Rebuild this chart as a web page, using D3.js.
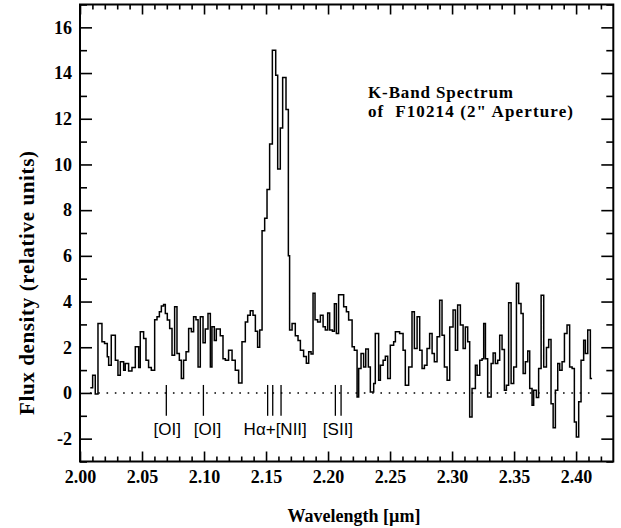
<!DOCTYPE html>
<html>
<head>
<meta charset="utf-8">
<script src="https://cdn.jsdelivr.net/npm/d3@7"></script>
<style>
  html, body { margin: 0; padding: 0; background: #fff; }
  svg { display: block; }
  .serif { font-family: "Liberation Serif", "Times New Roman", serif; font-weight: bold; }
  .sans { font-family: "Liberation Sans", Arial, sans-serif; }
</style>
</head>
<body>
<div id="chart"></div>
<script>
// ---- Data ----
// left edge of each spectral bin (micron)
const wavelength = [
  2.0083,2.0102,2.0123,2.0145,2.0177,2.0198,2.0220,2.0231,2.0252,2.0285,
  2.0306,2.0325,2.0352,2.0365,2.0392,2.0419,2.0446,2.0473,2.0486,2.0513,
  2.0532,2.0553,2.0575,2.0602,2.0621,2.0640,2.0656,2.0674,2.0688,2.0704,
  2.0723,2.0742,2.0763,2.0782,2.0801,2.0817,2.0835,2.0855,2.0876,2.0898,
  2.0916,2.0935,2.0952,2.0970,2.0992,2.1010,2.1032,2.1051,2.1064,2.1083,
  2.1099,2.1131,2.1153,2.1172,2.1198,2.1226,2.1252,2.1279,2.1306,2.1333,
  2.1352,2.1373,2.1395,2.1414,2.1432,2.1449,2.1468,2.1489,2.1508,2.1529,
  2.1551,2.1578,2.1594,2.1615,2.1634,2.1661,2.1680,2.1690,2.1710,2.1736,
  2.1758,2.1777,2.1803,2.1825,2.1844,2.1863,2.1879,2.1895,2.1916,2.1938,
  2.1960,2.1978,2.1997,2.2013,2.2035,2.2051,2.2067,2.2085,2.2126,2.2148,
  2.2166,2.2194,2.2212,2.2234,2.2247,2.2266,2.2287,2.2304,2.2325,2.2341,
  2.2368,2.2381,2.2408,2.2422,2.2444,2.2462,2.2481,2.2502,2.2529,2.2543,
  2.2577,2.2605,2.2623,2.2650,2.2677,2.2696,2.2718,2.2739,2.2758,2.2777,
  2.2798,2.2819,2.2839,2.2857,2.2879,2.2900,2.2919,2.2938,2.2960,2.2981,
  2.3008,2.3027,2.3045,2.3067,2.3089,2.3107,2.3126,2.3142,2.3161,2.3188,
  2.3202,2.3223,2.3242,2.3255,2.3269,2.3287,2.3315,2.3331,2.3349,2.3368,
  2.3384,2.3403,2.3422,2.3438,2.3456,2.3476,2.3497,2.3519,2.3537,2.3556,
  2.3573,2.3591,2.3610,2.3626,2.3645,2.3658,2.3680,2.3698,2.3718,2.3739,
  2.3761,2.3779,2.3798,2.3815,2.3833,2.3852,2.3868,2.3887,2.3906,2.3927,
  2.3948,2.3968,2.3986,2.4002,2.4021,2.4040,2.4061,2.4075,2.4094,2.4115
];
const wavelengthEnd = 2.4129;
// flux density (relative units) in each bin
const flux = [
  0.23,0.77,-0.05,3.04,2.24,2.16,1.58,1.21,2.53,1.43,
  0.77,1.36,0.99,1.29,0.96,1.11,2.02,1.11,2.68,2.38,
  1.43,1.11,0.99,3.20,3.33,3.55,3.80,3.87,3.48,3.19,
  2.82,1.65,3.77,1.73,1.43,0.63,1.43,1.80,2.82,2.68,
  3.33,3.20,1.14,3.33,2.20,2.80,3.48,1.14,2.90,2.30,
  2.80,2.50,1.50,1.43,1.87,1.43,0.99,0.44,2.24,3.10,
  3.40,3.60,3.40,2.70,2.00,2.75,7.10,7.65,8.90,10.90,
  15.00,13.90,9.80,11.60,13.80,12.40,6.00,2.75,3.04,2.50,
  2.30,1.87,1.60,1.30,1.80,1.70,4.36,3.20,3.10,3.40,
  2.90,2.75,3.50,2.75,2.70,3.90,2.60,4.30,3.77,3.55,
  3.19,2.02,1.87,-0.18,1.07,1.73,1.14,1.92,1.14,0.04,
  0.41,2.60,0.56,1.21,1.43,1.61,0.63,2.09,2.24,2.68,
  2.60,1.87,0.34,1.14,3.55,1.94,3.33,1.87,1.07,1.21,
  1.94,2.60,1.73,1.36,2.46,4.06,2.53,1.14,0.56,2.89,
  3.63,1.87,3.85,2.97,1.94,2.89,2.24,-1.05,0.19,1.21,
  0.77,1.43,1.50,3.04,1.50,-0.18,1.29,1.75,1.29,1.43,
  2.53,1.90,0.12,0.34,3.95,0.41,1.14,4.80,3.92,3.48,
  0.85,1.36,1.84,0.19,-0.54,0.12,-0.20,1.07,4.28,1.14,
  1.99,2.34,-0.47,-1.52,0.12,1.29,0.99,1.36,2.60,2.97,
  1.14,1.07,-1.27,-1.93,-0.39,1.43,2.31,1.73,2.75,0.63
];
// emission line markers
const lineWavelengths = [2.0696, 2.0995, 2.1513, 2.1554, 2.1621, 2.2059, 2.2105];
const lineLabels = ["[OI]", "[OI]", "H\u03B1+[NII]", "[SII]"];
const lineLabelWavelengths = [2.0703, 2.1028, 2.1574, 2.2080];
const markerRange = [0.35, -1.0];
// axes
const xDomain = [2.0, 2.43];
const yDomain = [-3, 17];
const xMajorTicks = [2.00, 2.05, 2.10, 2.15, 2.20, 2.25, 2.30, 2.35, 2.40];
const xMinorTicks = [2.01,2.02,2.03,2.04,2.06,2.07,2.08,2.09,2.11,2.12,2.13,2.14,2.16,2.17,2.18,2.19,
                     2.21,2.22,2.23,2.24,2.26,2.27,2.28,2.29,2.31,2.32,2.33,2.34,2.36,2.37,2.38,2.39,2.41,2.42];
const yMajorTicks = [-2, 0, 2, 4, 6, 8, 10, 12, 14, 16];
const yMinorTicks = [-3, -1, 1, 3, 5, 7, 9, 11, 13, 15, 17];
const titleLines = ["K-Band Spectrum", "of  F10214 (2\" Aperture)"];
const xLabel = "Wavelength [\u00B5m]";
const yLabel = "Flux density (relative units)";

// ---- Layout ----
const W = 621, H = 528;
const mLeft = 80, mRight = 613.3, mTop = 4.5, mBottom = 461.5;

const svg = d3.select("#chart").append("svg")
  .attr("width", W).attr("height", H)
  .style("background", "#fff");

const x = d3.scaleLinear().domain(xDomain).range([mLeft, mRight]);
const y = d3.scaleLinear().domain(yDomain).range([mBottom, mTop]);

// zero reference (dotted)
svg.append("line")
  .attr("x1", x(2.008)).attr("x2", x(2.416))
  .attr("y1", y(0)).attr("y2", y(0))
  .attr("stroke", "#000").attr("stroke-width", 1.6)
  .attr("stroke-dasharray", "1.6 6.7");

// spectrum (histogram-style steps)
const pts = wavelength.map((w, i) => [w, flux[i]]);
pts.push([wavelengthEnd, flux[flux.length - 1]]);
const line = d3.line().x(d => x(d[0])).y(d => y(d[1])).curve(d3.curveStepAfter);
svg.append("path")
  .attr("d", line(pts))
  .attr("fill", "none")
  .attr("stroke", "#000")
  .attr("stroke-width", 1.5)
  .attr("stroke-linejoin", "miter");

// emission-line markers
svg.append("g").selectAll("line").data(lineWavelengths).join("line")
  .attr("x1", d => x(d)).attr("x2", d => x(d))
  .attr("y1", y(markerRange[0])).attr("y2", y(markerRange[1]))
  .attr("stroke", "#000").attr("stroke-width", 1.3);

svg.append("g").selectAll("text").data(lineLabels).join("text")
  .attr("class", "sans")
  .attr("x", (d, i) => x(lineLabelWavelengths[i]))
  .attr("y", 435)
  .attr("text-anchor", "middle")
  .attr("font-size", 17)
  .text(d => d);

// ---- Axes (ticks pointing inward) ----
function styleAxis(g) {
  g.select(".domain").remove();
  g.selectAll(".tick line").attr("stroke", "#000").attr("stroke-width", 1.6);
  g.selectAll(".tick text").attr("class", "serif").attr("font-size", 18).attr("fill", "#000");
}
svg.append("g").attr("transform", `translate(0,${mBottom})`)
  .call(d3.axisBottom(x).tickValues(xMajorTicks).tickSize(-10).tickPadding(9).tickFormat(d3.format(".2f")))
  .call(styleAxis);
svg.append("g").attr("transform", `translate(0,${mBottom})`)
  .call(d3.axisBottom(x).tickValues(xMinorTicks).tickSize(-5).tickFormat(""))
  .call(styleAxis);
svg.append("g").attr("transform", `translate(0,${mTop})`)
  .call(d3.axisTop(x).tickValues(xMajorTicks).tickSize(-10).tickFormat(""))
  .call(styleAxis);
svg.append("g").attr("transform", `translate(0,${mTop})`)
  .call(d3.axisTop(x).tickValues(xMinorTicks).tickSize(-5).tickFormat(""))
  .call(styleAxis);
svg.append("g").attr("transform", `translate(${mLeft},0)`)
  .call(d3.axisLeft(y).tickValues(yMajorTicks).tickSize(-12).tickPadding(8).tickFormat(d3.format("d")))
  .call(styleAxis);
svg.append("g").attr("transform", `translate(${mLeft},0)`)
  .call(d3.axisLeft(y).tickValues(yMinorTicks).tickSize(-7).tickFormat(""))
  .call(styleAxis);
svg.append("g").attr("transform", `translate(${mRight},0)`)
  .call(d3.axisRight(y).tickValues(yMajorTicks).tickSize(-12).tickFormat(""))
  .call(styleAxis);
svg.append("g").attr("transform", `translate(${mRight},0)`)
  .call(d3.axisRight(y).tickValues(yMinorTicks).tickSize(-7).tickFormat(""))
  .call(styleAxis);
svg.selectAll(".tick text").each(function() {
  const t = d3.select(this);
  if (t.text().startsWith("\u2212")) t.text("-" + t.text().slice(1));
});

// frame
svg.append("rect")
  .attr("x", mLeft).attr("y", mTop)
  .attr("width", mRight - mLeft).attr("height", mBottom - mTop)
  .attr("fill", "none").attr("stroke", "#000").attr("stroke-width", 2);

// ---- Texts ----
const titleWidths = [145, 205];
svg.append("g").selectAll("text").data(titleLines).join("text")
  .attr("class", "serif")
  .attr("font-size", 17)
  .attr("xml:space", "preserve").style("white-space", "pre")
  .attr("textLength", (d, i) => titleWidths[i])
  .attr("x", 368).attr("y", (d, i) => 97.5 + i * 19.8)
  .text(d => d);

svg.append("text").attr("class", "serif")
  .attr("font-size", 18)
  .attr("x", 354).attr("y", 521.5)
  .attr("text-anchor", "middle")
  .text(xLabel);

svg.append("text").attr("class", "serif")
  .attr("font-size", 21)
  .attr("textLength", 264)
  .attr("transform", "translate(34,283) rotate(-90)")
  .attr("text-anchor", "middle")
  .text(yLabel);
</script>
</body>
</html>
